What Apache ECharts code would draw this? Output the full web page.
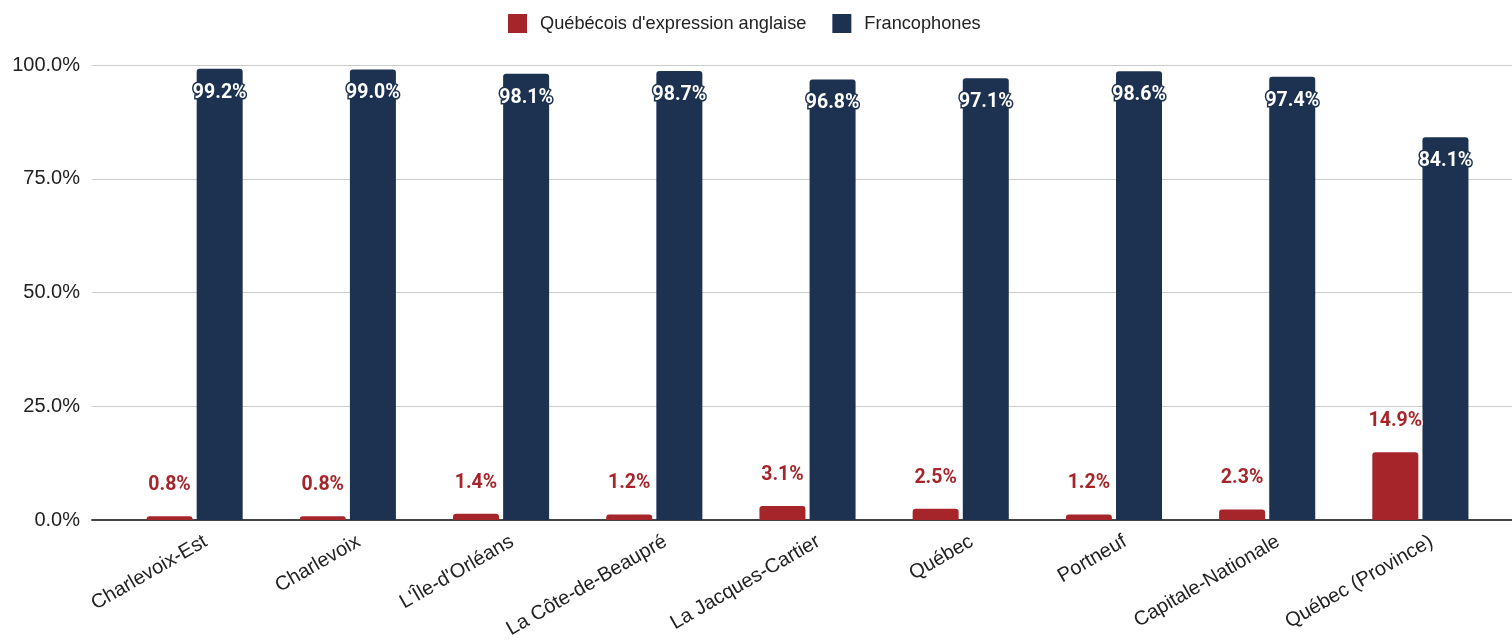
<!DOCTYPE html>
<html>
<head>
<meta charset="utf-8">
<script src="https://cdn.jsdelivr.net/npm/echarts@6/dist/echarts.min.js"></script>
<style>
  html, body { margin: 0; padding: 0; background: #fff; }
  #chart { width: 1512px; height: 641px; }
</style>
</head>
<body>
<div id="chart"></div>
<script>
const regions = ['Charlevoix-Est', 'Charlevoix', "L'Île-d'Orléans", 'La Côte-de-Beaupré', 'La Jacques-Cartier', 'Québec', 'Portneuf', 'Capitale-Nationale', 'Québec (Province)']
const anglophones = [0.8, 0.8, 1.4, 1.2, 3.1, 2.5, 1.2, 2.3, 14.9]
const francophones = [99.2, 99.0, 98.1, 98.7, 96.8, 97.1, 98.6, 97.4, 84.1]

const RED = '#a5252b'
const NAVY = '#1d3150'
const axisFont = 'Liberation Sans, Arial, sans-serif'
const labelFont = 'Roboto, sans-serif'

const pct = v => v.toFixed(1) + '%'

const chart = echarts.init(document.getElementById('chart'))
chart.setOption({
  animation: false,
  legend: {
    left: 503,
    top: 9,
    itemWidth: 19,
    itemHeight: 19,
    itemGap: 26,
    icon: 'rect',
    textStyle: { fontFamily: axisFont, fontSize: 18.2, color: '#222', padding: [0, 0, 0, 8] },
    data: ["Québécois d'expression anglaise", 'Francophones']
  },
  // grid 0: gridlines + y labels across the full width
  // grid 1: the bars, with the category slots inset
  // grid 2: only the rotated category labels, nudged right like the original
  grid: [
    { left: 92, right: 0, top: 65, bottom: 121 },
    { left: 118, right: 15, top: 65, bottom: 121 },
    { left: 129, right: 4, top: 65, bottom: 121 }
  ],
  xAxis: [
    {
      type: 'category', gridIndex: 0, data: [''],
      axisLine: { lineStyle: { color: '#444', width: 2 } },
      axisTick: { show: false }, axisLabel: { show: false }
    },
    {
      type: 'category', gridIndex: 1, data: regions,
      axisLine: { show: false }, axisTick: { show: false }, axisLabel: { show: false }
    },
    {
      type: 'category', gridIndex: 2, data: regions,
      axisLine: { show: false }, axisTick: { show: false },
      axisLabel: {
        rotate: 30, interval: 0, margin: 25,
        fontFamily: axisFont, fontSize: 20, color: '#222'
      }
    }
  ],
  yAxis: [
    {
      type: 'value', gridIndex: 0, min: 0, max: 100, interval: 25,
      axisLine: { show: false }, axisTick: { show: false },
      splitLine: { lineStyle: { color: '#cccccc', width: 1 } },
      axisLabel: { formatter: pct, margin: 12, fontFamily: axisFont, fontSize: 20, color: '#222' }
    },
    { type: 'value', gridIndex: 1, min: 0, max: 100, show: false, splitLine: { show: false } },
    { type: 'value', gridIndex: 2, min: 0, max: 100, show: false, splitLine: { show: false } }
  ],
  series: [
    {
      name: "Québécois d'expression anglaise",
      type: 'bar', xAxisIndex: 1, yAxisIndex: 1,
      data: anglophones,
      barWidth: 46, barGap: '9%',
      itemStyle: { color: RED, borderRadius: [3, 3, 0, 0] },
      label: {
        show: true, position: 'top', distance: 21,
        formatter: p => pct(p.value),
        fontFamily: labelFont, fontWeight: 'bold', fontSize: 19.5,
        color: RED, textBorderColor: '#fff', textBorderWidth: 3
      }
    },
    {
      name: 'Francophones',
      type: 'bar', xAxisIndex: 1, yAxisIndex: 1,
      data: francophones,
      barWidth: 46,
      itemStyle: { color: NAVY, borderRadius: [3, 3, 0, 0] },
      label: {
        show: true, position: 'insideTop', distance: 14,
        formatter: p => pct(p.value),
        fontFamily: labelFont, fontWeight: 'bold', fontSize: 19.5,
        color: '#fff', textBorderColor: NAVY, textBorderWidth: 3
      }
    }
  ]
})
</script>
</body>
</html>
